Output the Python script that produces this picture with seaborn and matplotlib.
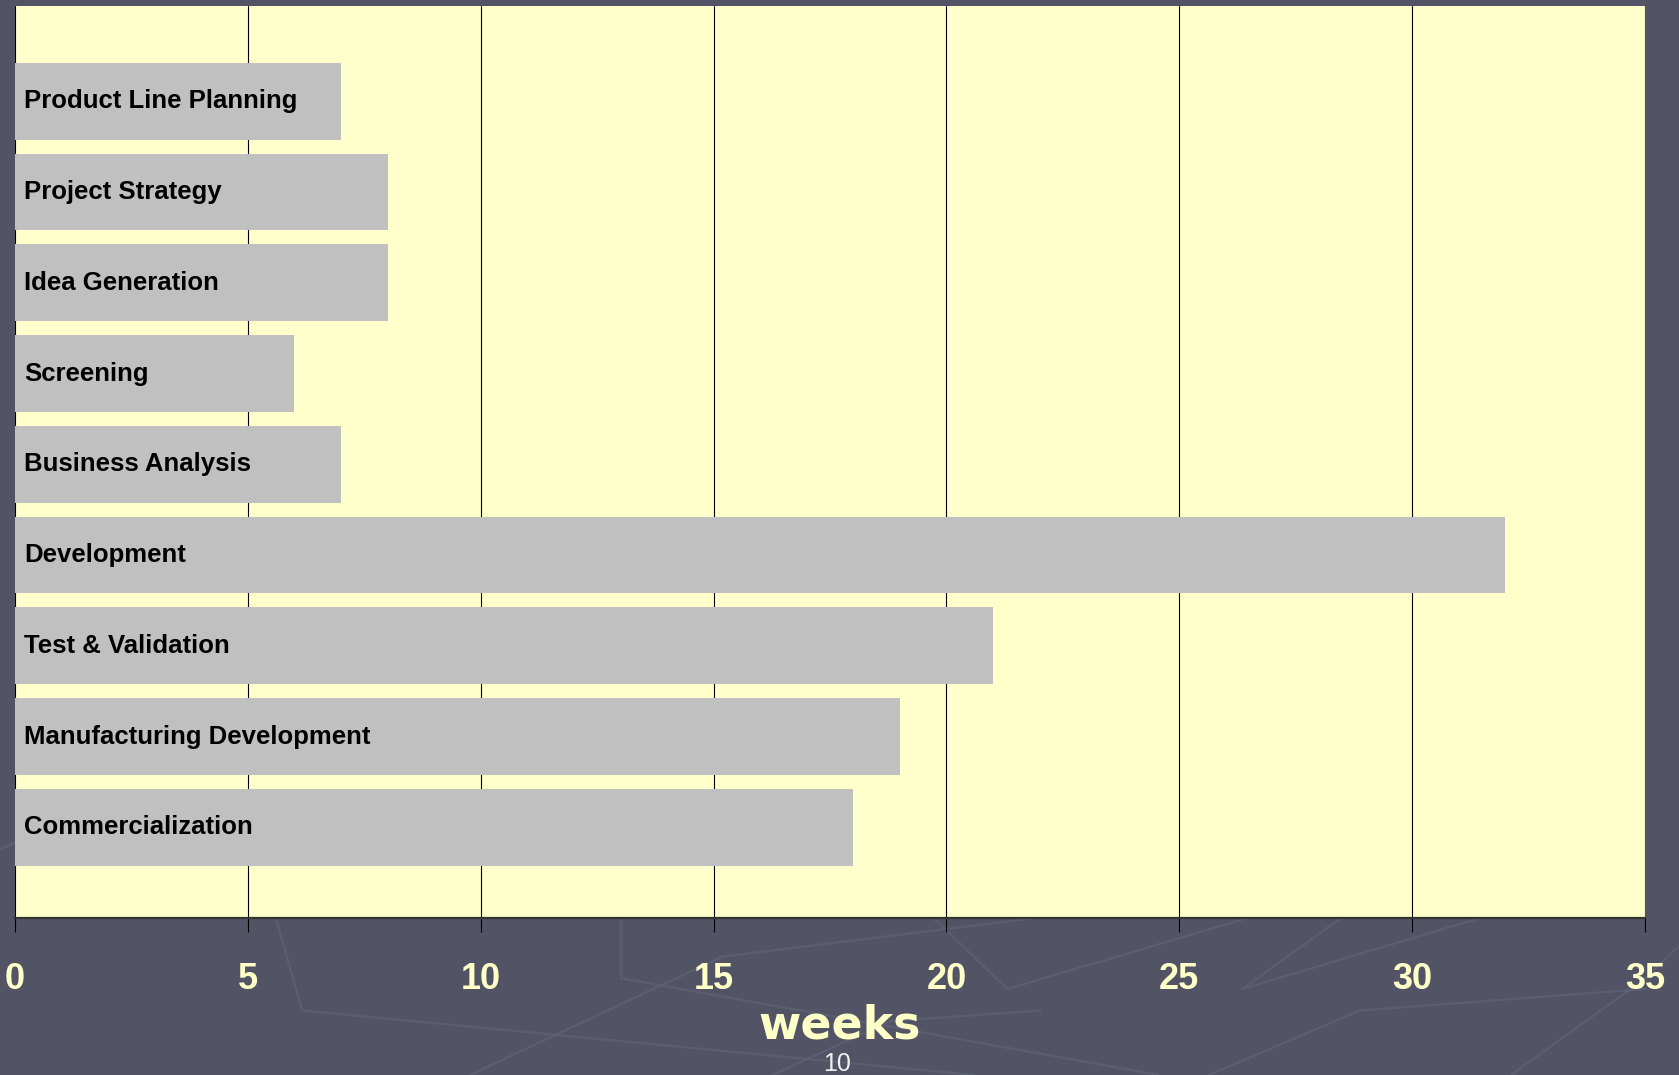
import matplotlib
matplotlib.use("Agg")
import matplotlib.pyplot as plt
import seaborn as sns
import pandas as pd
from matplotlib.lines import Line2D

# Project phases and their durations in weeks
phases = [
    "Product Line Planning",
    "Project Strategy",
    "Idea Generation",
    "Screening",
    "Business Analysis",
    "Development",
    "Test & Validation",
    "Manufacturing Development",
    "Commercialization",
]
weeks = [7, 8, 8, 6, 7, 32, 21, 19, 18]
x_ticks = [0, 5, 10, 15, 20, 25, 30, 35]
x_label = "weeks"
page_number = "10"

df = pd.DataFrame({"phase": phases, "weeks": weeks})

sns.set_theme(style="white")
narrow = ["Liberation Sans Narrow", "Liberation Sans", "DejaVu Sans"]
plt.rcParams["font.family"] = narrow

BG = "#525465"
PLOT_BG = "#FFFFCC"
BAR = "#C0C0C0"
PALE = "#FFFFC8"

fig = plt.figure(figsize=(16.79, 10.75), dpi=100, facecolor=BG)

# faint decorative strokes in the slide background
deco = [
    [(0.00, 0.21), (0.06, 0.25), (0.12, 0.23)],
    [(0.16, 0.17), (0.18, 0.06), (0.58, 0.00)],
    [(0.37, 0.17), (0.37, 0.09), (0.69, 0.00)],
    [(0.54, 0.17), (0.60, 0.08), (0.86, 0.20)],
    [(0.28, 0.00), (0.43, 0.11), (0.74, 0.17)],
    [(0.72, 0.00), (0.81, 0.06), (0.98, 0.08)],
    [(0.82, 0.17), (0.74, 0.08), (0.89, 0.15)],
    [(0.90, 0.00), (0.98, 0.09), (1.00, 0.12)],
    [(0.46, 0.00), (0.53, 0.05), (0.62, 0.06)],
]
for pts in deco:
    xs, ys = zip(*pts)
    fig.add_artist(Line2D(xs, ys, transform=fig.transFigure,
                          color="#62647A", lw=1.6, alpha=0.6, zorder=0))

ax = fig.add_axes([15 / 1679, 1 - 918 / 1075, 1630 / 1679, 912 / 1075])
ax.set_facecolor(PLOT_BG)

sns.barplot(data=df, x="weeks", y="phase", orient="h", color=BAR,
            width=0.846, saturation=1, ax=ax, zorder=3, edgecolor="none")

ax.set_xlim(0, 35)
ax.set_ylim(9.0, -1.05)
ax.set_xticks(x_ticks)
ax.set_xticklabels([str(t) for t in x_ticks], fontsize=26, fontweight="bold",
                   color=PALE)
ax.set_yticks([])
ax.set_xlabel("")
ax.set_ylabel("")

ax.grid(axis="x", color="black", lw=0.8, zorder=1)
ax.set_axisbelow(True)
ax.tick_params(axis="x", direction="out", length=10, width=0.8,
               color="black", pad=22, bottom=True)

for side in ["top", "right", "left"]:
    ax.spines[side].set_visible(False)
ax.spines["bottom"].set_color("#333333")
ax.spines["bottom"].set_linewidth(1.6)

for i, name in enumerate(phases):
    ax.text(0.19, i, name, ha="left", va="center", fontsize=18.5,
            fontweight="bold", color="black", zorder=4)

fig.text(0.5, 0.046, x_label, ha="center", va="center", fontsize=33,
         fontweight="bold", color=PALE, family=["DejaVu Sans"])
fig.text(0.4985, 0.010, page_number, ha="center", va="center", fontsize=18,
         color="#F0F0F0", family=["Liberation Sans", "DejaVu Sans"])

fig.savefig("out.png", dpi=100, facecolor=BG)
